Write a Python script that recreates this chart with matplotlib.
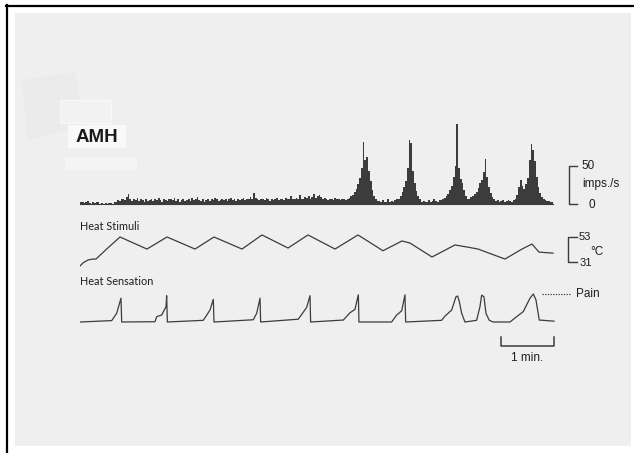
import numpy as np
import matplotlib
matplotlib.use("Agg")
import matplotlib.pyplot as plt
from matplotlib.patches import Rectangle, Polygon

W, H = 634, 453
SEC_PER_PX = 60 / 53.0  # horizontal time scale (s per pixel)

# firing rate histogram, 2 s bins starting at t = 0 (imps./s)
rate_bin = 2.0
rate = [
    2, 3, 1, 2, 4, 1, 0, 2, 1, 3, 2, 0, 1, 0, 1, 0, 1, 1, 0, 2,           # 0-38 s
    3, 5, 4, 6, 7, 5, 9, 13, 6, 4, 7, 5, 8, 4, 6, 5, 3, 6, 4, 5,          # 40-78 s
    6, 4, 7, 5, 8, 5, 3, 6, 5, 4, 7, 6, 5, 8, 4, 6, 3, 5, 7, 4,           # 80-118 s
    5, 6, 4, 8, 5, 6, 9, 5, 4, 6, 3, 5, 7, 4, 6, 5, 8, 6, 4, 5,           # 120-158 s
    6, 5, 7, 4, 6, 8, 5, 6, 4, 7, 5, 6, 8, 5, 7, 6, 9, 7, 15, 8,          # 160-198 s
    6, 5, 7, 6, 5, 8, 6, 4, 7, 5, 6, 8, 5, 7, 6, 5, 8, 7, 6, 11,          # 200-238 s
    7, 6, 8, 6, 12, 7, 6, 9, 8, 10, 7, 9, 13, 8, 10, 12, 9, 7, 8, 6,      # 240-278 s
    5, 7, 6, 5, 8, 6, 7, 5, 6, 7,                                         # 280-298 s
    5, 6, 8, 10, 12, 16, 20, 26, 34, 48, 81, 58, 62, 44, 30, 18, 10, 6, 4, 4,   # 300-338 s
    3, 5, 2, 3, 6, 3, 4, 3, 5, 6, 7, 11, 16, 22, 30, 47, 84, 80, 44, 28,       # 340-378 s
    17, 10, 6, 3, 4, 2, 3, 5, 3, 4, 6, 4, 3, 5, 5, 6, 8, 10, 13, 18,           # 380-418 s
    24, 35, 50, 105, 47, 33, 28, 18, 10, 6, 7, 9, 11, 13, 16, 21, 27, 32, 42, 59,  # 420-458 s
    36, 23, 14, 9, 6, 4, 5, 3, 4, 5, 3, 4, 5, 4, 3, 5, 7, 12, 22, 31,          # 460-498 s
    24, 20, 26, 34, 58, 79, 71, 56, 36, 23, 14, 9, 7, 5, 4, 4, 3, 3,            # 500-534 s
]

# ramped heat stimulus, breakpoints (s, degC)
temp_t = [0, 3.4, 9.1, 14.7, 18.1, 31.7, 45.3, 75.8, 98.5, 130.2, 151.7, 183.4,
          206.0, 235.5, 258.1, 288.7, 314.7, 343.0, 364.5, 373.6, 398.5, 424.5,
          438.1, 450.6, 481.1, 500.4, 511.7, 519.6, 535.5]
temp_c = [27.5, 30.2, 32.8, 33.6, 33.6, 43.5, 53.0, 42.4, 53.0, 42.4, 53.0, 42.4,
          54.8, 43.3, 54.8, 42.4, 54.8, 40.9, 49.5, 47.7, 35.4, 46.0,
          44.2, 42.4, 33.6, 42.4, 46.8, 39.7, 38.8]

# heat sensation rating (0 = none, 10 = pain)
sens_t = [0, 35.9, 41.5, 46.4, 47.2, 84.9, 86.8, 92.5, 97.4, 98.1, 98.9,
          139.6, 147.2, 150.9, 151.7, 196.2, 200.0, 203.8, 204.5,
          247.1, 256.6, 260.4, 261.1, 298.1, 305.6, 311.3, 315.1, 315.8,
          352.8, 358.5, 364.2, 367.9, 368.7, 409.4, 413.2, 420.8, 425.6, 427.5,
          429.4, 432.1, 435.8, 449.0, 452.8, 454.7, 457.3, 459.6, 463.3, 467.9,
          486.8, 494.3, 501.8, 509.4, 513.2, 516.2, 519.9, 536.6]
sens_v = [0, 0.5, 3.1, 8.5, 0, 0.1, 1.9, 2.5, 5.5, 9.4, 0,
          0.6, 4.3, 8.1, 0, 0.8, 3.1, 8.5, 0,
          1.0, 5.2, 9.4, 0, 0.7, 3.3, 4.5, 9.7, 0,
          0, 2.5, 4.0, 9.7, 0, 0.6, 2.1, 4.3, 9.0, 9.3,
          7.3, 3.1, 0, 0.6, 5.5, 9.6, 9.0, 3.1, 0.6, 0,
          0, 1.9, 3.7, 8.5, 10.0, 7.9, 0.7, 0.3]

pain_level = 10
rate_bar = (0, 50)
temp_bar = (31, 53)

ink = "#3c3c3c"
txt = "#1e1e1e"

fig = plt.figure(figsize=(W / 100, H / 100), dpi=100)
fig.patch.set_facecolor("white")


def px_rect(x0, y0, x1, y1, **kw):
    # rectangle given in pixel coordinates (origin top-left)
    return Rectangle((x0 / W, 1 - y1 / H), (x1 - x0) / W, (y1 - y0) / H,
                     transform=fig.transFigure, **kw)


# paper sheet, frame lines and pasted label patches (kept beneath the axes)
fig.patches.append(px_rect(15, 13, 631, 446, facecolor="#efefef", edgecolor="none", zorder=-5))
fig.patches.append(Polygon([(22 / W, 1 - 80 / H), (75 / W, 1 - 72 / H), (85 / W, 1 - 125 / H),
                            (28 / W, 1 - 140 / H)], closed=True, transform=fig.transFigure,
                           facecolor="#ebebeb", edgecolor="none", zorder=-4))
fig.patches.append(px_rect(60, 100, 111, 123, facecolor="#f2f2f2", edgecolor="#f8f8f8", lw=1,
                           zorder=-3))
fig.patches.append(px_rect(68, 125, 126, 148, facecolor="#f9f9f9", edgecolor="none", zorder=-3))
fig.patches.append(px_rect(65, 157, 137, 170, facecolor="#f4f4f4", edgecolor="none", zorder=-3))
fig.add_artist(plt.Line2D([6 / W, 1], [1 - 5.5 / H, 1 - 5.5 / H], transform=fig.transFigure,
                          color="black", lw=1.6))
fig.add_artist(plt.Line2D([6.5 / W, 6.5 / W], [0, 1 - 5 / H], transform=fig.transFigure,
                          color="black", lw=1.6))


def px_axes(ytop, ybot, v0, p0, v1, p1):
    ax = fig.add_axes([80 / W, 1 - ybot / H, 550 / W, (ybot - ytop) / H])
    k = (v1 - v0) / (p0 - p1)
    ax.set_ylim(v0 - (ybot - p0) * k, v0 + (p0 - ytop) * k)
    ax.set_xlim(0, 550 * SEC_PER_PX)
    ax.axis("off")
    ax.patch.set_alpha(0)
    return ax


sans = ["Liberation Sans", "DejaVu Sans"]
humanist = ["Lato", "DejaVu Sans"]

# firing rate
ax_r = px_axes(100, 215, 0, 204, 50, 166)
edges = np.arange(len(rate)) * rate_bin
ax_r.bar(edges, rate, width=rate_bin, align="edge", color=ink, linewidth=0)
ax_r.plot([0, len(rate) * rate_bin], [0, 0], color=ink, lw=0.8)
tb = 553.6
ax_r.plot([tb + 9, tb, tb, tb + 9], [rate_bar[1], rate_bar[1], rate_bar[0], rate_bar[0]],
          color=ink, lw=1, clip_on=False)
ax_r.text(tb + 14.5, rate_bar[1], "50", fontsize=8.5, family=sans, color=txt, va="center")
ax_r.text(tb + 15.5, 26, "imps./s", fontsize=8.5, family=sans, color=txt, va="center")
ax_r.text(tb + 22, rate_bar[0] - 1, "0", fontsize=8.5, family=sans, color=txt, va="center")

# heat stimulus
ax_t = px_axes(225, 275, 31, 262, 53, 237)
ax_t.plot(temp_t, temp_c, color=ink, lw=0.9)
tb = 552.5
ax_t.plot([tb + 10, tb, tb, tb + 10], [temp_bar[1], temp_bar[1], temp_bar[0], temp_bar[0]],
          color=ink, lw=1, clip_on=False)
ax_t.text(tb + 12.5, temp_bar[1], "53", fontsize=8, family=sans, color=txt, va="center")
ax_t.text(tb + 12.5, temp_bar[0] - 1, "31", fontsize=8, family=sans, color=txt, va="center")
ax_t.text(tb + 25, 40, "°C", fontsize=8.5, family=sans, color=txt, va="center")
ax_t.text(0, 62.5, "Heat Stimuli", fontsize=7.8, family=humanist, color=txt, va="center")

# heat sensation
ax_s = px_axes(285, 370, 0, 322, 10, 294)
ax_s.plot(sens_t, sens_v, color=ink, lw=0.9)
ax_s.plot([523, 555], [pain_level, pain_level], color=ink, lw=0.8, ls=(0, (1.2, 1.2)),
          clip_on=False)
ax_s.text(561, pain_level, "Pain", fontsize=8.5, family=sans, color=txt, va="center")
ax_s.text(0, 14.3, "Heat Sensation", fontsize=7.8, family=humanist, color=txt, va="center")
t0 = 476.6
ax_s.plot([t0, t0, t0 + 60, t0 + 60], [-5.2, -8.6, -8.6, -5.2], color=ink, lw=1.1,
          clip_on=False)
ax_s.text(t0 + 30, -12.9, "1 min.", fontsize=8.5, family=sans, color=txt, ha="center",
          va="center")

fig.text(76 / W, 1 - 138 / H, "AMH", fontsize=13.5, fontweight="bold", family=sans,
         color="#1a1a1a", va="center")

fig.savefig("out.png", dpi=100, facecolor="white")
